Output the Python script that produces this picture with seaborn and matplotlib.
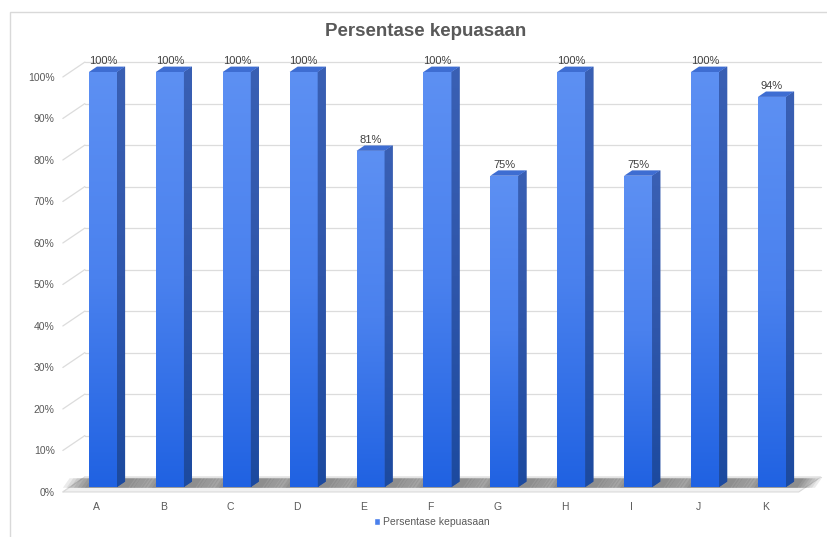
import numpy as np
import pandas as pd
import matplotlib
matplotlib.use("Agg")
import matplotlib.pyplot as plt
import seaborn as sns
from matplotlib.patches import Polygon, Patch, Rectangle
from matplotlib.colors import LinearSegmentedColormap

# data
categories = ["A", "B", "C", "D", "E", "F", "G", "H", "I", "J", "K"]
values = [100, 100, 100, 100, 81, 100, 75, 100, 75, 100, 94]
y_ticks = [0, 10, 20, 30, 40, 50, 60, 70, 80, 90, 100]
series_name = "Persentase kepuasaan"
title = "Persentase kepuasaan"

df = pd.DataFrame({"kategori": categories, "nilai": values})

sns.set_theme(style="white")
plt.rcParams["font.family"] = ["Liberation Sans", "DejaVu Sans"]

W, H = 828, 537
fig = plt.figure(figsize=(W / 100, H / 100), dpi=100)
fig.patch.set_facecolor("white")

# chart-area border (top and left edges visible)
fig.add_artist(Rectangle((10 / W, -0.1), 1.2, 1 - 12 / H + 0.1,
                         transform=fig.transFigure, fill=False,
                         edgecolor="#d9d9d9", linewidth=1.0))

# plot area in pixels
x0_px, x1_px = 59.5, 825.5
y0_px, y1_px = 495.3, 55.4
ax = fig.add_axes([x0_px / W, (H - y0_px) / H, (x1_px - x0_px) / W, (y0_px - y1_px) / H])
ax.set_facecolor("none")
for s in ax.spines.values():
    s.set_visible(False)

# 3-D geometry (data units)
depth_dx, depth_dy = 0.33, 3.6     # back wall offset
front_drop = 1.2                   # front floor edge below bar base
bar_w = 0.42
side_dx, side_dy = 0.12, 1.3       # bar depth

# back wall gridlines and their diagonal link to the front
for v in y_ticks:
    ax.plot([-0.6 + depth_dx, 10.4 + depth_dx], [v + depth_dy - front_drop] * 2,
            color="#dcdcdc", lw=0.9, zorder=1)
    ax.plot([-0.6, -0.6 + depth_dx], [v - front_drop, v + depth_dy - front_drop],
            color="#dcdcdc", lw=0.9, zorder=1)

# floor
floor = Polygon([(-0.6, -front_drop), (10.4, -front_drop),
                 (10.4 + depth_dx, depth_dy - front_drop), (-0.6 + depth_dx, depth_dy - front_drop)],
                closed=True, facecolor="#f1f1f1", edgecolor="#dadada", lw=0.8, zorder=2)
ax.add_patch(floor)

# front faces via seaborn
sns.barplot(data=df, x="kategori", y="nilai", width=bar_w, color="#4a80ec",
            saturation=1, ax=ax, zorder=5, linewidth=0)

front_cmap = LinearSegmentedColormap.from_list("front", ["#5d90f3", "#4a81ee", "#2062e2"])
side_cmap = LinearSegmentedColormap.from_list("side", ["#3a60b4", "#2f56aa", "#1c4a9f"])
grad = np.linspace(0, 1, 256).reshape(-1, 1)

bars = [p for p in ax.patches if p is not floor]
for p in bars:
    x = p.get_x()
    w = p.get_width()
    h = p.get_height()
    cx = x + w / 2
    # soft floor shadow around the base
    for k in range(7):
        spread = 0.06 + 0.055 * k
        ax.add_patch(Polygon([(x - spread, -0.2), (x + w + side_dx + spread * 0.8, -0.2),
                              (x + w + side_dx + spread * 0.8 + 0.1, depth_dy - front_drop - 0.3),
                              (x - spread + 0.1, depth_dy - front_drop - 0.3)],
                             closed=True, facecolor="#2a2a2a", alpha=0.09, lw=0, zorder=3))
    # gradient front face
    im = ax.imshow(grad, extent=(x, x + w, 0, h), origin="upper", cmap=front_cmap,
                   aspect="auto", zorder=6)
    im.set_clip_path(p)
    # side face
    side = Polygon([(x + w, 0), (x + w + side_dx, side_dy), (x + w + side_dx, h + side_dy), (x + w, h)],
                   closed=True, facecolor="#2c54a8", lw=0, zorder=6)
    ax.add_patch(side)
    ims = ax.imshow(grad, extent=(x + w, x + w + side_dx, 0, h + side_dy), origin="upper",
                    cmap=side_cmap, aspect="auto", zorder=6.5)
    ims.set_clip_path(side)
    # top face
    ax.add_patch(Polygon([(x, h), (x + w, h), (x + w + side_dx, h + side_dy), (x + side_dx, h + side_dy)],
                         closed=True, facecolor="#3e6dd2", lw=0, zorder=7))
    # value label
    ax.annotate(f"{h:.0f}%", (cx, h), xytext=(0, 4.5), textcoords="offset points",
                ha="center", va="bottom", fontsize=8, color="#404040", zorder=8)

ax.set_xlim(-0.65, 10.8)
ax.set_ylim(-2, 104)

# axis labels
ax.set_yticks(np.array(y_ticks) - front_drop)
ax.set_yticklabels([f"{v}%" for v in y_ticks], fontsize=7.5, color="#595959")
ax.set_xticks(np.arange(len(categories)) - 0.1)
ax.set_xticklabels(categories, fontsize=7.5, color="#595959")
ax.tick_params(axis="both", length=0)
ax.tick_params(axis="y", pad=3.5)
ax.tick_params(axis="x", pad=5)
ax.set_xlabel("")
ax.set_ylabel("")

fig.text(426 / W, 1 - 32 / H, title, ha="center", va="center",
         fontsize=13.5, fontweight="bold", color="#595959")

fig.legend(handles=[Patch(facecolor="#4a80ec", label=series_name)], loc="center",
           bbox_to_anchor=(432 / W, 1 - 522 / H), frameon=False, fontsize=7.5,
           handlelength=0.6, handleheight=0.6, handletextpad=0.3, labelcolor="#595959")

fig.savefig("out.png", dpi=100, facecolor="white")
